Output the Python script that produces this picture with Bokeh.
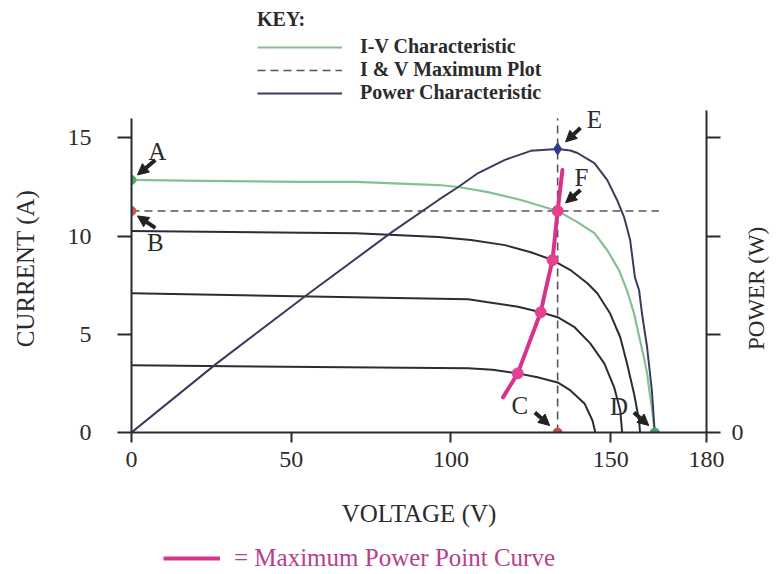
import math
from bokeh.plotting import figure
from bokeh.layouts import column
from bokeh.models import (Range1d, LinearAxis, Legend, LegendItem, Label, Arrow,
                          NormalHead, FixedTicker)
from bokeh.embed import file_html
from bokeh.resources import INLINE

# ---------------- data ----------------
# main I-V characteristic (green)
iv_v = [0, 21.5, 52.5, 70.3, 96.1, 102.3, 111.6, 121.9, 133.4, 139.6, 144.9, 148.9,
        152.6, 155.1, 157.3, 159.2, 160.4, 161.4, 162.3, 162.9, 163.8]
iv_i = [12.86, 12.81, 12.76, 12.76, 12.60, 12.50, 12.24, 11.84, 11.28, 10.71, 10.15, 9.29,
        8.27, 7.24, 6.07, 4.69, 3.83, 3.01, 1.90, 1.28, 0.0]

# power characteristic (W)
pw_v = [0, 26.7, 55.6, 81.5, 96.1, 102.3, 108.5, 116.9, 125.0, 133.4, 137.4, 139.6, 144.9,
        148.9, 152.0, 154.2, 156.1, 157.6, 158.9, 159.8, 161.4, 162.9, 163.8]
pw_w = [0, 352, 709, 1020, 1184, 1250, 1321, 1388, 1434, 1444, 1436, 1423, 1372,
        1286, 1184, 1097, 980, 790, 724, 607, 434, 214, 0]

# lower irradiance I-V curves (dark)
i1_v = [0, 70.3, 96.1, 106.3, 116.9, 125.0, 131.8, 137.4, 142.7, 145.8, 149.8, 153.0, 155.1,
        157.3, 158.9, 159.2]
i1_i = [10.26, 10.15, 9.95, 9.80, 9.54, 9.18, 8.78, 8.27, 7.60, 7.09, 6.07, 4.85, 3.52,
        1.99, 0.61, 0.0]
i2_v = [0, 105.4, 111.6, 121.0, 128.1, 133.4, 138.7, 143.6, 148.0, 151.1, 153.0, 153.6]
i2_i = [7.09, 6.79, 6.63, 6.40, 6.12, 5.87, 5.36, 4.54, 3.52, 2.30, 1.12, 0.0]
i3_v = [0, 105.4, 113.0, 120.9, 127.1, 133.4, 137.4, 141.8, 144.3, 145.2]
i3_i = [3.42, 3.27, 3.20, 3.01, 2.81, 2.55, 2.14, 1.48, 0.61, 0.0]

# maximum power point curve
mpp_v = [116.3, 120.9, 128.1, 129.6, 131.8, 133.4, 134.9]
mpp_i = [1.79, 3.01, 6.12, 7.24, 8.78, 11.28, 13.37]
mpp_pts_v = [120.9, 128.1, 131.8, 133.4]
mpp_pts_i = [3.01, 6.12, 8.78, 11.28]

# key points
isc = 12.86
imp = 11.28
vmp = 133.4
voc = 163.8
pmax = 1444
dash_end_v = 165.1
dash_top_i = 16.0

x_ticks = [0, 50, 100, 150, 180]
y_ticks = [0, 5, 10, 15]
p_ticks = [0, 500, 1000, 1500]

key_labels = ["I-V Characteristic", "I & V Maximum Plot", "Power Characteristic"]
mpp_label = "= Maximum Power Point Curve"
power_title = "POWER (W)"

# ---------------- styles ----------------
FONT = "Liberation Serif"
TXT = "#2b2b2b"
DARK = "#2c2c38"
GREEN = "#86bf94"
DASH = "#555555"
POWER = "#3b3b5e"
MAGENTA = "#d8338a"
NAN = [float("nan")]

W = 784
H_KEY, H_MAIN, H_BOT = 104, 436, 34
BL, BR, BT, BB = 131, 74, 0, 108
X_END, Y_END, P_END = 180, 16.7, 1670
POWER_TITLE_START = 420   # where the rotated power title starts (bottom end), in W

PX_V = (W - BL - BR) / X_END
PX_I = (H_MAIN - BT - BB) / Y_END
PX_P = (H_MAIN - BT - BB) / P_END

# ---------------- key (top) ----------------
kf = figure(width=W, height=H_KEY, x_range=Range1d(0, 1), y_range=Range1d(0, 1),
            x_axis_location=None, y_axis_location=None, output_backend="svg",
            toolbar_location=None, min_border=0)
kf.grid.visible = False
kf.outline_line_color = None
k1 = kf.line(NAN, NAN, line_color=GREEN, line_width=2.2)
k2 = kf.line(NAN, NAN, line_color=DASH, line_width=1.6, line_dash="8 5")
k3 = kf.line(NAN, NAN, line_color=POWER, line_width=2)
key = Legend(items=[LegendItem(label=key_labels[0], renderers=[k1]),
                    LegendItem(label=key_labels[1], renderers=[k2]),
                    LegendItem(label=key_labels[2], renderers=[k3])],
             location=(126, 0), title="KEY:")
key.title_text_font = FONT
key.title_text_font_size = "20px"
key.title_text_font_style = "bold"
key.title_text_color = TXT
key.title_standoff = 4
key.label_text_font = FONT
key.label_text_font_size = "20px"
key.label_text_font_style = "bold"
key.label_text_color = TXT
key.glyph_width = 85
key.glyph_height = 20
key.label_height = 20
key.label_standoff = 18
key.spacing = 0
key.padding = 0
key.margin = 0
key.border_line_color = None
key.background_fill_alpha = 0
kf.add_layout(key)

# ---------------- main plot ----------------
p = figure(width=W, height=H_MAIN, x_range=Range1d(0, X_END), y_range=Range1d(0, Y_END),
           output_backend="svg", toolbar_location=None,
           min_border_left=BL, min_border_right=BR, min_border_top=BT, min_border_bottom=BB)
p.extra_y_ranges = {"power": Range1d(0, P_END)}
p.grid.visible = False
p.outline_line_color = None


def style_axis(ax):
    ax.axis_line_color = TXT
    ax.axis_line_width = 2
    ax.major_tick_line_color = TXT
    ax.major_tick_line_width = 2
    ax.major_tick_in = 0
    ax.minor_tick_line_color = None
    ax.major_label_text_font = FONT
    ax.major_label_text_font_size = "24px"
    ax.major_label_text_color = TXT
    ax.axis_label_text_font = FONT
    ax.axis_label_text_font_size = "25px"
    ax.axis_label_text_font_style = "normal"
    ax.axis_label_text_color = TXT


xa = p.xaxis[0]
style_axis(xa)
xa.ticker = FixedTicker(ticks=x_ticks)
xa.major_tick_out = 10
xa.major_label_standoff = 9
xa.axis_label = "VOLTAGE (V)"
xa.axis_label_standoff = 30

ya = p.yaxis[0]
style_axis(ya)
ya.ticker = FixedTicker(ticks=y_ticks)
ya.bounds = (0, 16)
ya.major_tick_out = 14
ya.major_label_standoff = 26
ya.axis_label = "CURRENT (A)"
ya.axis_label_standoff = 26

# right power axis: line, ticks and the "0" label
ra = LinearAxis(y_range_name="power", ticker=FixedTicker(ticks=p_ticks),
                major_label_overrides={500: "", 1000: "", 1500: ""})
style_axis(ra)
ra.bounds = (0, 1640)
ra.major_tick_out = 14
ra.major_label_standoff = 11
p.add_layout(ra, "right")

# power title drawn as a rotated tick label (reads bottom to top)
rl = LinearAxis(y_range_name="power", ticker=FixedTicker(ticks=[POWER_TITLE_START]),
                major_label_overrides={POWER_TITLE_START: power_title})
style_axis(rl)
rl.axis_line_color = None
rl.major_tick_line_color = None
rl.major_tick_out = 0
rl.major_label_standoff = 10
rl.major_label_text_font_size = "23px"
rl.major_label_orientation = math.pi / 2
p.add_layout(rl, "right")

r_i3 = p.line(i3_v, i3_i, line_color=DARK, line_width=2, line_join="round")
r_i2 = p.line(i2_v, i2_i, line_color=DARK, line_width=2, line_join="round")
r_i1 = p.line(i1_v, i1_i, line_color=DARK, line_width=2, line_join="round")
r_dash = p.multi_line(xs=[[0, dash_end_v], [vmp, vmp]], ys=[[imp, imp], [0, dash_top_i]],
                      line_color=DASH, line_width=1.6, line_dash="8 5")
r_iv = p.line(iv_v, iv_i, line_color=GREEN, line_width=2.2, line_join="round")
r_pow = p.line(pw_v, pw_w, y_range_name="power", line_color=POWER, line_width=2,
               line_join="round")
r_mpp = p.line(mpp_v, mpp_i, line_color=MAGENTA, line_width=4, line_join="round",
               line_cap="round")

p.scatter(mpp_pts_v, mpp_pts_i, size=11, fill_color="#e6418f", line_color="#e6418f")
p.scatter([0], [isc], size=9, fill_color="#55a862", line_color="#55a862")
p.scatter([0], [imp], size=9, fill_color="#c85a5a", line_color="#c85a5a")
p.scatter([vmp], [0], size=9, fill_color="#c4504e", line_color="#c4504e")
p.scatter([voc], [0], size=9, fill_color="#4f9e78", line_color="#4f9e78")
p.scatter([vmp], [pmax], y_range_name="power", marker="diamond", size=12,
          fill_color="#2f3b8c", line_color="#2f3b8c")

# letters and arrows: (letter, x, y, range, start offset px, end offset px, letter offset px)
notes = [
    ("A", 0, isc, "default", (24, 20), (6, 5), (26, 28)),
    ("B", 0, imp, "default", (24, -17), (6, -5), (24, -32)),
    ("C", vmp, 0, "default", (-23, 20), (-8, 7), (-38, 27)),
    ("D", voc, 0, "default", (-21, 20), (-6, 7), (-36, 26)),
    ("E", vmp, pmax, "power", (23, 21), (8, 7), (37, 29)),
    ("F", vmp, imp, "default", (23, 21), (8, 8), (24, 33)),
]
for letter, bx, by, rng, so, eo, lo in notes:
    py = PX_P if rng == "power" else PX_I
    p.add_layout(Arrow(end=NormalHead(size=11, fill_color="#222222", line_color="#222222"),
                       x_start=bx + so[0] / PX_V, y_start=by + so[1] / py,
                       x_end=bx + eo[0] / PX_V, y_end=by + eo[1] / py,
                       line_width=4, line_color="#222222", y_range_name=rng))
    p.add_layout(Label(x=bx + lo[0] / PX_V, y=by + lo[1] / py, text=letter, y_range_name=rng,
                       text_align="center", text_baseline="middle", text_font=FONT,
                       text_font_size="25px", text_color=TXT))

# ---------------- bottom legend ----------------
bf = figure(width=W, height=H_BOT, x_range=Range1d(0, 1), y_range=Range1d(0, 1),
            x_axis_location=None, y_axis_location=None, output_backend="svg",
            toolbar_location=None, min_border=0)
bf.grid.visible = False
bf.outline_line_color = None
b1 = bf.line(NAN, NAN, line_color=MAGENTA, line_width=4)
mleg = Legend(items=[LegendItem(label=mpp_label, renderers=[b1])], location=(32, 2))
mleg.label_text_font = FONT
mleg.label_text_font_size = "25px"
mleg.label_text_color = "#b8408a"
mleg.glyph_width = 57
mleg.glyph_height = 24
mleg.label_standoff = 14
mleg.padding = 0
mleg.margin = 0
mleg.border_line_color = None
mleg.background_fill_alpha = 0
bf.add_layout(mleg)

layout = column(kf, p, bf, spacing=0)
open("out.html", "w").write(file_html(layout, INLINE))
